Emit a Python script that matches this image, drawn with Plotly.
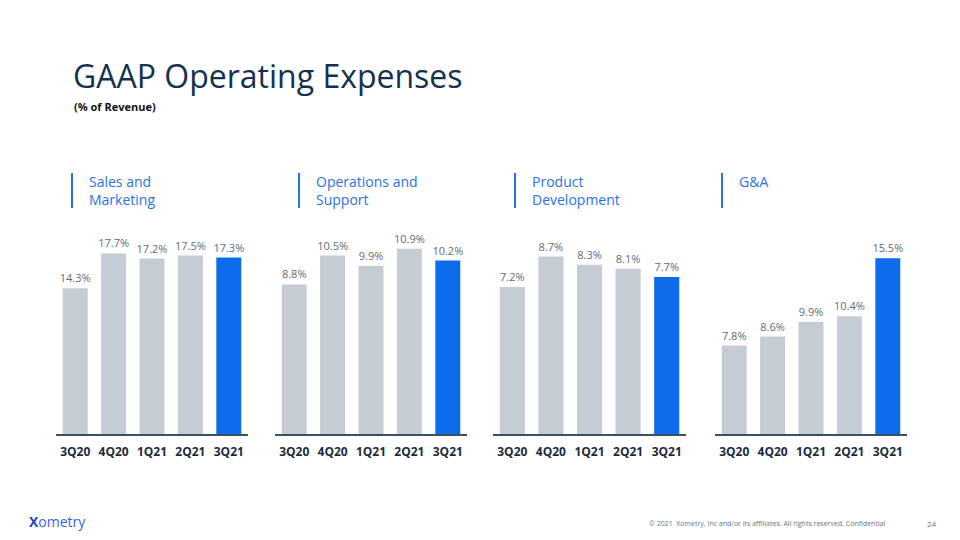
import plotly.graph_objects as go

quarters = ["3Q20", "4Q20", "1Q21", "2Q21", "3Q21"]
panel_titles = ["Sales and<br>Marketing", "Operations and<br>Support",
                "Product<br>Development", "G&A"]
sales_marketing = [14.3, 17.7, 17.2, 17.5, 17.3]
operations_support = [8.8, 10.5, 9.9, 10.9, 10.2]
product_development = [7.2, 8.7, 8.3, 8.1, 7.7]
general_admin = [7.8, 8.6, 9.9, 10.4, 15.5]
series = [sales_marketing, operations_support, product_development, general_admin]
y_ranges = [20, 12, 10, 18]

W, H = 960, 540
GRAY = "#c5ccd3"
BLUE = "#0d6ceb"
HEAD_BLUE = "#2a72e0"

x_px = [(56, 248), (275, 467), (493, 686), (715, 907)]
head_x = [72, 299, 515, 722]
y_dom = [(H - 434) / H, (H - 230) / H]

fig = go.Figure()
for i, vals in enumerate(series):
    idx = "" if i == 0 else str(i + 1)
    colors = [GRAY] * (len(vals) - 1) + [BLUE]
    fig.add_trace(go.Bar(
        x=quarters, y=vals,
        marker=dict(color=colors, line=dict(width=0)),
        text=[f"{v:.1f}%" for v in vals],
        textposition="outside",
        constraintext="none",
        textfont=dict(family="Open Sans", size=11, color="#5f6b78"),
        cliponaxis=False,
        xaxis="x" + idx, yaxis="y" + idx,
        hoverinfo="skip",
    ))
    fig.update_layout(**{
        "xaxis" + idx: dict(
            domain=[x_px[i][0] / W, x_px[i][1] / W],
            anchor="y" + idx,
            showline=True, linecolor="#3d4f63", linewidth=2,
            ticks="", showgrid=False, zeroline=False,
            tickfont=dict(family="Open Sans", size=12, color="#1c2b3c", weight="bold"),
            ticklabelstandoff=6,
            fixedrange=True,
        ),
        "yaxis" + idx: dict(
            domain=y_dom, anchor="x" + idx,
            range=[0, y_ranges[i]],
            showticklabels=False, showgrid=False, zeroline=False, showline=False,
            fixedrange=True,
        ),
    })

annotations = [
    dict(text="GAAP Operating Expenses", x=71 / W, y=(H - 75.5) / H, xref="paper", yref="paper",
         xanchor="left", yanchor="middle", showarrow=False,
         font=dict(family="Open Sans", size=32, color="#14324f")),
    dict(text="<b>(% of Revenue)</b>", x=72 / W, y=(H - 106) / H, xref="paper", yref="paper",
         xanchor="left", yanchor="middle", showarrow=False,
         font=dict(family="Open Sans", size=11, color="#111111")),
    dict(text="<b><span style='color:#2a3fc8'>X</span></b>ometry", x=27 / W, y=(H - 521) / H,
         xref="paper", yref="paper",
         xanchor="left", yanchor="middle", showarrow=False,
         font=dict(family="Open Sans", size=14, color="#3a64e0")),
    dict(text="© 2021  Xometry, Inc and/or its affiliates. All rights reserved. Confidential",
         x=888 / W, y=(H - 523) / H, xref="paper", yref="paper",
         xanchor="right", yanchor="middle", showarrow=False,
         font=dict(family="Open Sans", size=7, color="#6b7480")),
    dict(text="24", x=932 / W, y=(H - 523) / H, xref="paper", yref="paper",
         xanchor="center", yanchor="middle", showarrow=False,
         font=dict(family="Open Sans", size=8, color="#6b7480")),
]
shapes = []
for i, t in enumerate(panel_titles):
    annotations.append(dict(
        text=t, x=(head_x[i] + 15) / W, y=(H - 170) / H,
        xref="paper", yref="paper",
        xanchor="left", yanchor="top", align="left", showarrow=False,
        font=dict(family="Open Sans", size=14, color=HEAD_BLUE),
    ))
    shapes.append(dict(type="line", xref="paper", yref="paper",
                       x0=head_x[i] / W, x1=head_x[i] / W,
                       y0=(H - 173) / H, y1=(H - 208) / H,
                       line=dict(color=HEAD_BLUE, width=2)))

fig.update_layout(
    width=W, height=H,
    margin=dict(l=0, r=0, t=0, b=0),
    paper_bgcolor="white", plot_bgcolor="white",
    showlegend=False, bargap=0.35,
    annotations=annotations, shapes=shapes,
    font=dict(family="Open Sans"),
)

fig.write_html("out.html", config={"displayModeBar": False},
               post_script="document.body.style.margin='0';")
